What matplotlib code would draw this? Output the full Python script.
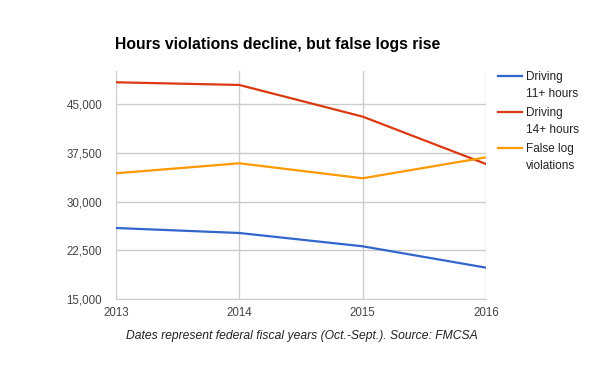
import matplotlib
matplotlib.use("Agg")
import matplotlib.pyplot as plt
from matplotlib.lines import Line2D

years = [2013, 2014, 2015, 2016]
driving_11 = [25940, 25170, 23120, 19830]
driving_14 = [48390, 47980, 43100, 35800]
false_logs = [34370, 35910, 33600, 36830]
series_labels = ["Driving\n11+ hours", "Driving\n14+ hours", "False log\nviolations"]
y_ticks = [15000, 22500, 30000, 37500, 45000]
title = "Hours violations decline, but false logs rise"
caption = "Dates represent federal fiscal years (Oct.-Sept.). Source: FMCSA"

plt.rcParams['font.family'] = ['Liberation Sans', 'DejaVu Sans']

fig = plt.figure(figsize=(6, 3.71), dpi=100)
ax = fig.add_axes([116/600, 1 - 299/371, 370/600, 228/371])

colors = ["#3366cc", "#dc3912", "#ff9900"]
for vals, c, lab in zip([driving_11, driving_14, false_logs], colors, series_labels):
    ax.plot(years, vals, color=c, lw=1.6, label=lab, solid_capstyle='round')

ax.set_xlim(years[0], years[-1])
ax.set_ylim(15000, 50130)
ax.set_xticks(years)
ax.set_xticklabels([str(y) for y in years])
ax.set_yticks(y_ticks)
ax.set_yticklabels([f"{v:,}" for v in y_ticks])
ax.grid(True, color="#cccccc", lw=1)
ax.set_axisbelow(True)
for s in ["top", "right", "left"]:
    ax.spines[s].set_visible(False)
ax.spines["bottom"].set_color("#cccccc")
ax.tick_params(length=0, labelsize=8.3, colors="#444444")
ax.tick_params(axis='x', pad=6)
ax.tick_params(axis='y', pad=10)

fig.text(115/600, 1 - 45/371, title, fontsize=11.3, fontweight='bold', va='center', ha='left', color='black')
fig.text(302/600, 1 - 336/371, caption, fontsize=8.7, style='italic', ha='center', va='center', color='#222222')

# custom legend: handle aligned with first text line
for i, (c, lab) in enumerate(zip(colors, series_labels)):
    y0 = 76 + 36 * i
    fig.add_artist(Line2D([498/600, 522/600], [1 - y0/371, 1 - y0/371], color=c, lw=1.6,
                          transform=fig.transFigure))
    fig.text(526/600, 1 - (y0 - 5)/371, lab, fontsize=8.5, color="#222222",
             ha='left', va='top', linespacing=1.55)

fig.savefig("out.png", dpi=100)
